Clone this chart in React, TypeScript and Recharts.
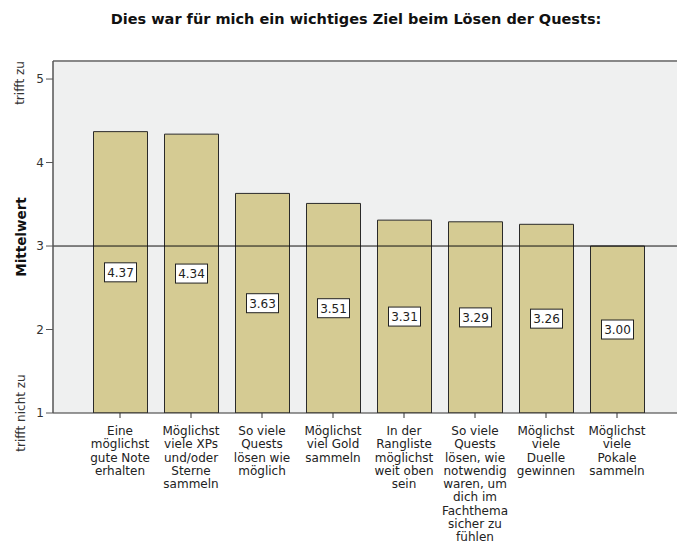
import React from "react";
import { BarChart, Bar, XAxis, YAxis, CartesianGrid, ReferenceLine, LabelList } from "recharts";

const categories = [
  "Eine\nmöglichst\ngute Note\nerhalten",
  "Möglichst\nviele XPs\nund/oder\nSterne\nsammeln",
  "So viele\nQuests\nlösen wie\nmöglich",
  "Möglichst\nviel Gold\nsammeln",
  "In der\nRangliste\nmöglichst\nweit oben\nsein",
  "So viele\nQuests\nlösen, wie\nnotwendig\nwaren, um\ndich im\nFachthema\nsicher zu\nfühlen",
  "Möglichst\nviele\nDuelle\ngewinnen",
  "Möglichst\nviele\nPokale\nsammeln",
];
const means = [4.37, 4.34, 3.63, 3.51, 3.31, 3.29, 3.26, 3.0];
const yTicks = [1, 2, 3, 4, 5];
const Y_MAX = 5.216;

const data = categories.map((name, i) => ({ name, mean: means[i] }));

const FONT = "'DejaVu Sans', sans-serif";

const MultiLineTick = ({ x, y, payload }: any) => {
  const lines = String(payload.value).split("\n");
  return (
    <text x={x} y={y} textAnchor="middle" fontSize={12} fill="#222" fontFamily={FONT}>
      {lines.map((l, i) => (
        <tspan key={i} x={x} dy={i === 0 ? 17 : 13.25}>
          {l}
        </tspan>
      ))}
    </text>
  );
};

const ValueBox = (props: any) => {
  const { x, y, width, height, value } = props;
  const cx = Number(x) + Number(width) / 2;
  const cy = Number(y) + Number(height) / 2;
  return (
    <g>
      <rect x={cx - 16} y={cy - 9.5} width={32} height={19} fill="#fff" stroke="#222" strokeWidth={1} />
      <text x={cx} y={cy} dy="0.36em" textAnchor="middle" fontSize={12} fill="#222" fontFamily={FONT}>
        {Number(value).toFixed(2)}
      </text>
    </g>
  );
};

const sideLabel = (cx: number, cy: number, bold = false): React.CSSProperties => ({
  position: "absolute",
  left: cx,
  top: cy,
  transform: "translate(-50%, -50%) rotate(-90deg)",
  whiteSpace: "nowrap",
  fontSize: bold ? 13.5 : 12,
  fontWeight: bold ? 700 : 400,
  color: bold ? "#111" : "#333",
  fontFamily: FONT,
});

export default function App() {
  return (
    <div style={{ position: "absolute", left: 0, top: 0, width: 677, height: 545, background: "#fff", fontFamily: FONT }}>
      <div
        style={{
          position: "absolute",
          left: 356,
          top: 19,
          transform: "translate(-50%, -50%)",
          whiteSpace: "nowrap",
          fontSize: 14.5,
          fontWeight: 700,
          color: "#111",
        }}
      >
        Dies war für mich ein wichtiges Ziel beim Lösen der Quests:
      </div>
      <div style={sideLabel(20, 83)}>trifft zu</div>
      <div style={sideLabel(21, 237, true)}>Mittelwert</div>
      <div style={sideLabel(21, 413)}>trifft nicht zu</div>

      <BarChart width={677} height={545} data={data} margin={{ top: 61, right: 0, bottom: 0, left: 0 }}>
        <CartesianGrid fill="#eff0f0" stroke="none" horizontal={false} vertical={false} />
        <XAxis
          dataKey="name"
          height={132}
          padding={{ left: 31.5, right: 24.5 }}
          interval={0}
          tick={<MultiLineTick />}
          tickSize={5}
          tickMargin={0}
          axisLine={{ stroke: "#333" }}
          tickLine={{ stroke: "#333" }}
        />
        <YAxis
          width={53}
          type="number"
          domain={[1, Y_MAX]}
          allowDataOverflow
          ticks={yTicks}
          interval={0}
          tickSize={7}
          tickMargin={2}
          axisLine={{ stroke: "#555", strokeWidth: 1.5 }}
          tickLine={{ stroke: "#555" }}
          tick={{ fill: "#333", fontSize: 12, fontFamily: FONT }}
        />
        <Bar dataKey="mean" barSize={54} fill="#d5cb93" stroke="#2a2a2a" strokeWidth={1} isAnimationActive={false}>
          <LabelList dataKey="mean" content={<ValueBox />} />
        </Bar>
        <ReferenceLine y={3} stroke="#111" strokeWidth={1} />
        <ReferenceLine y={Y_MAX} stroke="#888" strokeWidth={2} />
      </BarChart>
    </div>
  );
}
